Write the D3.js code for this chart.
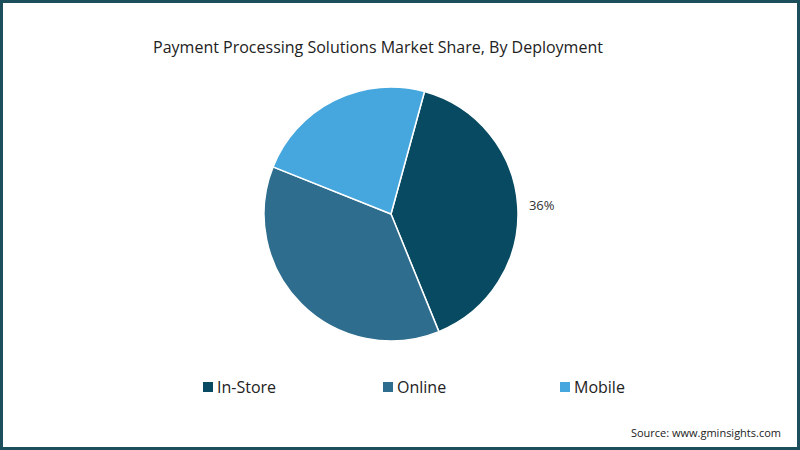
<!DOCTYPE html>
<html>
<head>
<meta charset="utf-8">
<script src="https://cdn.jsdelivr.net/npm/d3@7"></script>
<style>
  body { margin: 0; background: #fff; }
  text { font-family: "Open Sans", "Noto Sans", sans-serif; }
</style>
</head>
<body>
<div id="chart"></div>
<script>
// chart data
const categories = ["In-Store", "Online", "Mobile"];
const shares = [39.6, 37.2, 23.2];
const sliceLabels = ["36%", "", ""];
const colors = ["#084a62", "#2e6d8e", "#45a7dd"];

const width = 800, height = 450;
const cx = 391, cy = 214, radius = 127;

let svg = d3.select("#chart").append("svg")
    .attr("width", width)
    .attr("height", height);

// frame
svg.append("rect")
    .attr("x", 1.5).attr("y", 1.5)
    .attr("width", width - 3).attr("height", height - 3)
    .attr("fill", "#fff")
    .attr("stroke", "#1d4e5c")
    .attr("stroke-width", 3);

svg.append("text")
    .attr("x", 378).attr("y", 53)
    .attr("text-anchor", "middle")
    .attr("font-size", 16)
    .attr("fill", "#222")
    .text("Payment Processing Solutions Market Share, By Deployment");

// pie, first slice starts a little right of the top
let startAngle = 15.3 * Math.PI / 180;
let pie = d3.pie().sort(null)
    .startAngle(startAngle)
    .endAngle(startAngle + 2 * Math.PI);
let arc = d3.arc().innerRadius(0).outerRadius(radius);
let labelArc = d3.arc().innerRadius(radius + 24).outerRadius(radius + 24);

let g = svg.append("g").attr("transform", `translate(${cx},${cy})`);
let arcs = pie(shares);

g.selectAll("path")
    .data(arcs)
    .join("path")
    .attr("d", arc)
    .attr("fill", (d, i) => colors[i])
    .attr("stroke", "#fff")
    .attr("stroke-width", 1.5);

g.selectAll(".slice_label")
    .data(arcs)
    .join("text")
    .classed("slice_label", true)
    .attr("x", d => labelArc.centroid(d)[0])
    .attr("y", d => labelArc.centroid(d)[1])
    .attr("dy", "0.35em")
    .attr("text-anchor", "middle")
    .attr("font-size", 13)
    .attr("fill", "#333")
    .text((d, i) => sliceLabels[i]);

// legend
let legendPos = [203, 383, 560];
let legend = svg.selectAll(".legend")
    .data(categories)
    .join("g")
    .attr("transform", (d, i) => `translate(${legendPos[i]},387)`);

legend.append("rect")
    .attr("x", 0).attr("y", -5)
    .attr("width", 10).attr("height", 10)
    .attr("fill", (d, i) => colors[i]);

legend.append("text")
    .attr("x", 14).attr("dy", "0.35em")
    .attr("font-size", 16)
    .attr("fill", "#222")
    .text(d => d);

svg.append("text")
    .attr("x", 781).attr("y", 437)
    .attr("text-anchor", "end")
    .attr("font-size", 11)
    .attr("fill", "#222")
    .text("Source: www.gminsights.com");
</script>
</body>
</html>
